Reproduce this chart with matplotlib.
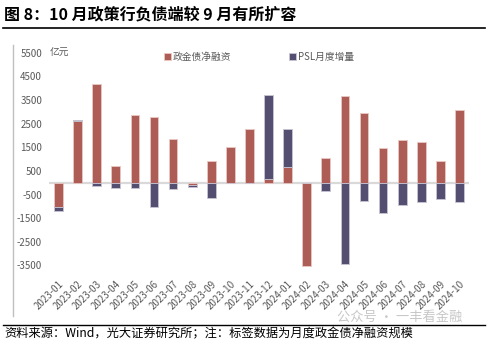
import matplotlib.pyplot as plt
import numpy as np

plt.rcParams['font.family'] = ['Noto Sans CJK SC', 'DejaVu Sans']

months = ['2023-01', '2023-02', '2023-03', '2023-04', '2023-05', '2023-06', '2023-07',
          '2023-08', '2023-09', '2023-10', '2023-11', '2023-12', '2024-01', '2024-02',
          '2024-03', '2024-04', '2024-05', '2024-06', '2024-07', '2024-08', '2024-09',
          '2024-10']
net_financing = [-1030, 2600, 4165, 690, 2865, 2770, 1835, -80, 915, 1510, 2255, 150,
                 680, -3530, 1060, 3655, 2935, 1450, 1790, 1705, 915, 3065]
psl_change = [-185, 50, -150, -240, -240, -1030, -270, -110, -665, 0, 0, 3550,
              1575, 0, -355, -3450, -780, -1300, -930, -820, -710, -820]
y_ticks = [5500, 4500, 3500, 2500, 1500, 500, -500, -1500, -2500, -3500]

red = '#AE5D56'
purple = '#544E70'
gray = '#595959'

fig = plt.figure(figsize=(4.89, 3.43), dpi=100)
ax = fig.add_axes([49 / 489, 1 - 276 / 343, 420 / 489, 235 / 343])

x = np.arange(len(months))
net = np.array(net_financing)
psl = np.array(psl_change)
# stack PSL on the same side as the red bar
base = np.where(np.sign(psl) == np.sign(net), net, 0)

ax.bar(x, net, width=0.46, color=red, edgecolor='#E8C8C4', linewidth=0.6,
       label='政金债净融资', zorder=2)
ax.bar(x, psl, width=0.46, bottom=base, color=purple, edgecolor='#C8C4D4',
       linewidth=0.6, label='PSL月度增量', zorder=2)

ax.axhline(0, color='#D9D9D9', linewidth=1.6, zorder=1)
ax.set_xlim(-0.5, len(months) - 0.5)
ax.set_ylim(-3950, 6000)
ax.set_yticks(y_ticks)
ax.set_yticklabels([str(v) for v in y_ticks], color=gray, fontsize=7)
ax.set_xticks(x)
ax.set_xticklabels(months, rotation=45, ha='right', rotation_mode='anchor',
                   color=gray, fontsize=7)
ax.tick_params(axis='both', length=0, pad=2)
ax.tick_params(axis='y', pad=5)
for s in ax.spines.values():
    s.set_visible(False)

ax.text(-0.45, 5500, '亿元', fontsize=7, color=gray, va='center', ha='left')

ax.legend(loc='upper center', bbox_to_anchor=(0.5, 0.99), ncol=2, frameon=False,
          fontsize=7, labelcolor=gray, handlelength=0.7, handleheight=0.7,
          handletextpad=0.2, columnspacing=6)

# title, rules and source
fig.text(4 / 489, 1 - 14 / 343, '图 8：10 月政策行负债端较 9 月有所扩容',
         fontsize=11.5, fontweight='bold', va='center', ha='left')
fig.add_artist(plt.Line2D([3 / 489, 485 / 489], [1 - 28 / 343] * 2,
                          color='black', linewidth=1.2))
fig.add_artist(plt.Line2D([13 / 489] * 2, [1 - 45 / 343, 1 - 316 / 343],
                          color='#BFBFBF', linewidth=1))
fig.add_artist(plt.Line2D([3 / 489, 485 / 489], [1 - 325 / 343] * 2,
                          color='black', linewidth=1))
fig.text(4 / 489, 1 - 334 / 343,
         '资料来源：Wind，光大证券研究所；注：标签数据为月度政金债净融资规模',
         fontsize=8.8, va='center', ha='left')
fig.text(337 / 489, 1 - 317 / 343, '公众号 · 一丰看金融', fontsize=9.5,
         color='#C8C8C8', va='center', ha='left')

fig.savefig('out.png', dpi=100)
